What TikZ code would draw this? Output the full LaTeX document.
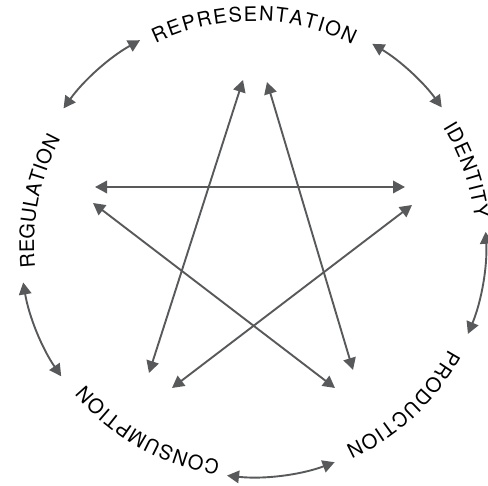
\documentclass[tikz,border=0pt]{standalone}
\usepackage{fontspec}
\setmainfont{TeX Gyre Heros}
\usetikzlibrary{arrows.meta,decorations.text}
\definecolor{arr}{HTML}{58595B}
\definecolor{txt}{HTML}{231F20}
\newcommand\lblfont{\fontsize{20}{24}\selectfont}
\tikzset{
  dbl/.style={draw=arr, line width=1.9pt,
    {Triangle[length=12pt,width=12.5pt]}-{Triangle[length=12pt,width=12.5pt]}},
  lbl/.style={decoration={text along path, text={|\lblfont|#1}, text align=fit to path}, decorate, color=txt}
}
\begin{document}
\begin{tikzpicture}[x=1pt,y=1pt]
\useasboundingbox (0,0) rectangle (488,486);
\coordinate (O) at (253,242);
% labels
\path[lbl=REPRESENTATION] ([shift={(115.9:223pt)}]O) coordinate (L1) arc[start angle=115.9, end angle=63.5, radius=223pt];
\path[lbl=IDENTITY] ([shift={(31.6:223pt)}]O) coordinate (L2) arc[start angle=31.6, end angle=6.5, radius=223pt];
\path[lbl=PRODUCTION] ([shift={(-28.3:222pt)}]O) coordinate (L3) arc[start angle=-28.3, end angle=-65.4, radius=222pt];
\path[lbl=CONSUMPTION] ([shift={(-98.6:219pt)}]O) coordinate (L4) arc[start angle=-98.6, end angle=-140, radius=219pt];
\path[lbl=REGULATION] ([shift={(186.2:219pt)}]O) coordinate (L5) arc[start angle=186.2, end angle=151.4, radius=219pt];
% outer arrows
\coordinate (r1) at ([shift={(144.4:233pt)}]O);
\coordinate (r2) at ([shift={(59.2:233pt)}]O);
\coordinate (r3) at ([shift={(3:233pt)}]O);
\coordinate (r4) at ([shift={(-69.5:233pt)}]O);
\coordinate (r5) at ([shift={(214.6:233pt)}]O);
\draw[dbl] (r1) arc[start angle=144.4, end angle=119, radius=233pt];
\draw[dbl] (r2) arc[start angle=59.2, end angle=35.9, radius=233pt];
\draw[dbl] (r3) arc[start angle=3, end angle=-22.7, radius=233pt];
\draw[dbl] (r4) arc[start angle=-69.5, end angle=-96.4, radius=233pt];
\draw[dbl] (r5) arc[start angle=214.6, end angle=189.5, radius=233pt];
% star
\coordinate (a1) at (243,406); \coordinate (a2) at (149,113);
\coordinate (b1) at (267,404); \coordinate (b2) at (353,116);
\coordinate (c1) at (95,299);  \coordinate (c2) at (405,299);
\coordinate (d1) at (93,283);  \coordinate (d2) at (335,98);
\coordinate (e1) at (412,281); \coordinate (e2) at (172,98);
\draw[dbl] (a1) -- (a2);
\draw[dbl] (b1) -- (b2);
\draw[dbl] (c1) -- (c2);
\draw[dbl] (d1) -- (d2);
\draw[dbl] (e1) -- (e2);
\end{tikzpicture}
\end{document}
